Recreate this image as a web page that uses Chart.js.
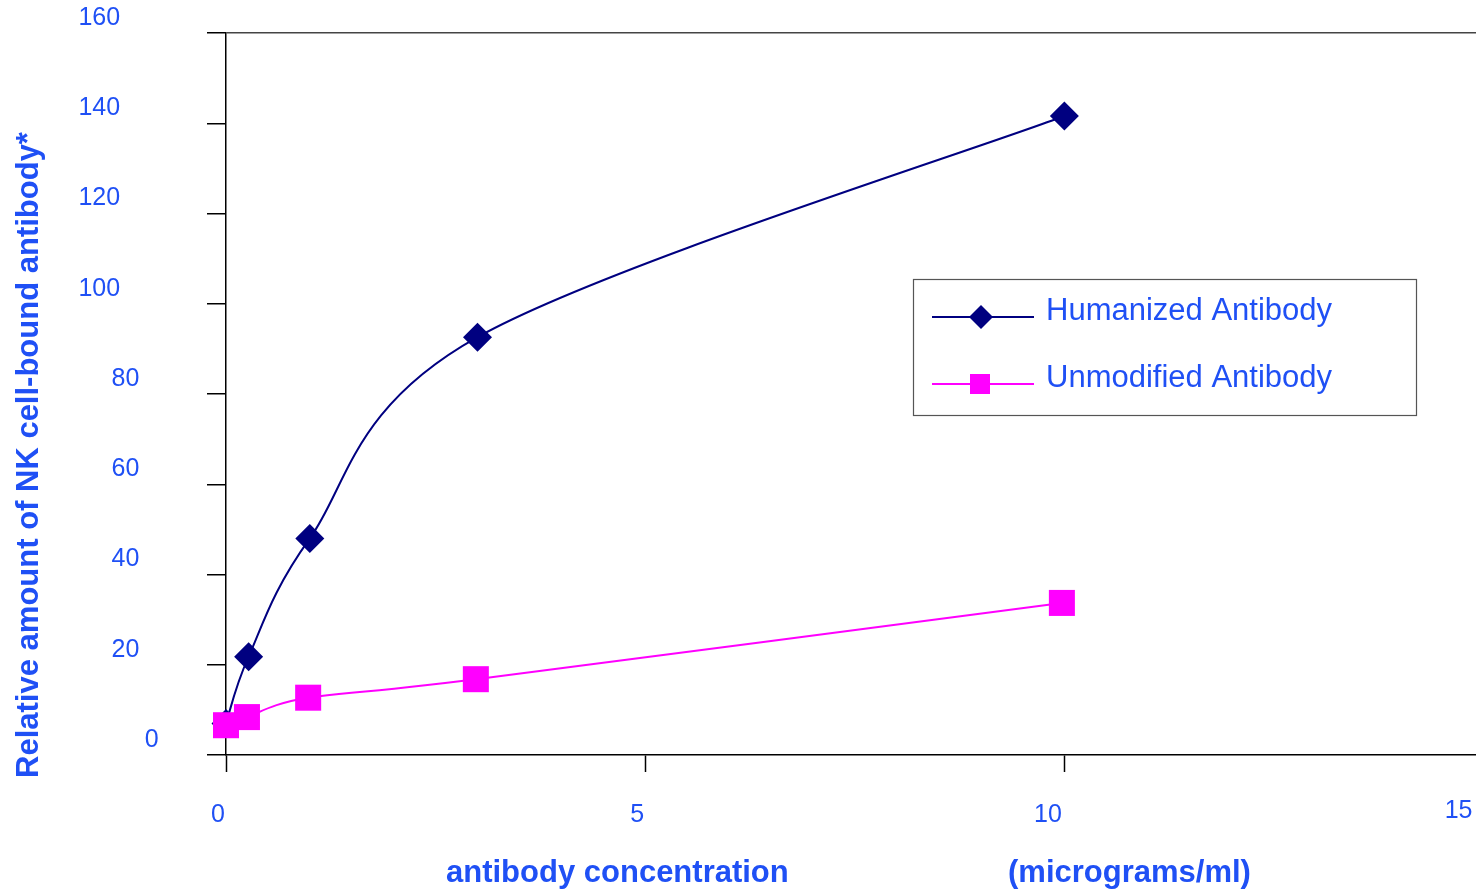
<!DOCTYPE html>
<html>
<head>
<meta charset="utf-8">
<script src="https://cdn.jsdelivr.net/npm/chart.js@4"></script>
<style>
  html,body{margin:0;padding:0;background:#fff;overflow:hidden;}
  #wrap{width:1476px;height:890px;position:relative;overflow:hidden;}
  #c{position:absolute;left:0;top:0;}
</style>
</head>
<body>
<div id="wrap"><canvas id="c" width="1502" height="890"></canvas></div>
<script>
// ---- data ----
const humanizedConc = [0, 0.27, 1, 3, 10];
const humanizedValues = [7, 21.8, 48, 92.6, 141.6];
const unmodifiedConc = [0, 0.25, 0.98, 2.98, 9.97];
const unmodifiedValues = [6.6, 8.4, 12.7, 16.8, 33.7];
const xTicks = [0, 5, 10, 15];
const yTicks = [0, 20, 40, 60, 80, 100, 120, 140, 160];
const seriesNames = ['Humanized Antibody', 'Unmodified Antibody'];
const yTitle = 'Relative amount of NK cell-bound antibody*';
const xTitleLeft = 'antibody concentration';
const xTitleRight = '(micrograms/ml)';

const BLUE = '#1f50f5';
const NAVY = '#000080';
const MAGENTA = '#ff00ff';
const FONT = '"Liberation Sans", Arial, sans-serif';

const toPts = (xs, ys) => xs.map((x, i) => ({x: x, y: ys[i]}));

// Spreadsheet-style smoothing: bezier handles = (next - prev) / 6,
// applied to the line element's own points after the library lays them out.
const smoothPlugin = {
  id: 'sheetSmooth',
  beforeDatasetDraw(chart, args) {
    const line = args.meta.dataset;
    if (!line) return;
    line.updateControlPoints(chart.chartArea, 'x');
    const pts = line.points;
    const n = pts.length;
    for (let i = 0; i < n; i++) {
      const prev = pts[Math.max(i - 1, 0)];
      const next = pts[Math.min(i + 1, n - 1)];
      const dx = (next.x - prev.x) / 6;
      const dy = (next.y - prev.y) / 6;
      pts[i].cp1x = pts[i].x - dx;
      pts[i].cp1y = pts[i].y - dy;
      pts[i].cp2x = pts[i].x + dx;
      pts[i].cp2y = pts[i].y + dy;
    }
    line._path = undefined;
  }
};

const textPlugin = {
  id: 'texts',
  afterDraw(chart) {
    const ctx = chart.ctx;
    const xs = chart.scales.x, ys = chart.scales.y;
    ctx.save();
    ctx.fillStyle = BLUE;
    // y tick labels
    ctx.font = '25px ' + FONT;
    ctx.textAlign = 'right';
    ctx.textBaseline = 'middle';
    yTicks.forEach(v => {
      const s = String(v);
      const py = ys.getPixelForValue(v) - 15;
      ctx.fillText(s, 178 - 19.3 * s.length, py);
    });
    // x tick labels
    ctx.textAlign = 'center';
    xTicks.forEach(v => {
      const px = xs.getPixelForValue(v) - 8 - Math.max(0, v - 5) * 1.7;
      ctx.fillText(String(v), px, 815 - (v === 15 ? 4 : 0));
    });
    // axis titles
    ctx.font = 'bold 31px ' + FONT;
    ctx.textAlign = 'left';
    ctx.fillText(xTitleLeft, 446, 873);
    ctx.fillText(xTitleRight, 1008, 873);
    ctx.save();
    ctx.translate(29, 455);
    ctx.rotate(-Math.PI / 2);
    ctx.textAlign = 'center';
    ctx.fillText(yTitle, 0, 0);
    ctx.restore();

    // legend
    ctx.strokeStyle = '#555';
    ctx.lineWidth = 1.2;
    ctx.strokeRect(913.5, 279.5, 503, 136);
    const rows = [
      {name: seriesNames[0], color: NAVY, y: 317, style: 'diamond'},
      {name: seriesNames[1], color: MAGENTA, y: 384, style: 'square'}
    ];
    rows.forEach(r => {
      ctx.strokeStyle = r.color;
      ctx.lineWidth = 2;
      ctx.beginPath();
      ctx.moveTo(932, r.y);
      ctx.lineTo(1034, r.y);
      ctx.stroke();
      ctx.fillStyle = r.color;
      ctx.beginPath();
      if (r.style === 'diamond') {
        const cx = 981, h = 12;
        ctx.moveTo(cx - h, r.y); ctx.lineTo(cx, r.y - h);
        ctx.lineTo(cx + h, r.y); ctx.lineTo(cx, r.y + h);
        ctx.closePath();
      } else {
        ctx.rect(970, r.y - 10, 20, 20);
      }
      ctx.fill();
      ctx.fillStyle = BLUE;
      ctx.font = '31px ' + FONT;
      ctx.textAlign = 'left';
      ctx.textBaseline = 'middle';
      ctx.fillText(r.name, 1046, r.y - 6);
    });
    ctx.restore();
  }
};

new Chart(document.getElementById('c'), {
  type: 'line',
  data: {
    datasets: [
      {
        label: seriesNames[0],
        data: toPts(humanizedConc, humanizedValues),
        borderColor: NAVY,
        backgroundColor: NAVY,
        borderWidth: 2,
        pointStyle: 'rectRot',
        pointRadius: 14.5,
        pointBorderWidth: 0,
        pointBackgroundColor: NAVY,
        tension: 0.4,
        fill: false,
        clip: false,
        order: 1
      },
      {
        label: seriesNames[1],
        data: toPts(unmodifiedConc, unmodifiedValues),
        borderColor: MAGENTA,
        backgroundColor: MAGENTA,
        borderWidth: 2,
        pointStyle: 'rect',
        pointRadius: 18.4,
        pointBorderWidth: 0,
        pointBackgroundColor: MAGENTA,
        tension: 0.4,
        fill: false,
        clip: false,
        order: 0
      }
    ]
  },
  options: {
    responsive: false,
    animation: false,
    events: [],
    layout: {padding: {left: 226, top: 33, right: 0, bottom: 135}},
    plugins: {legend: {display: false}, tooltip: {enabled: false}, title: {display: false}},
    scales: {
      x: {
        type: 'linear',
        min: 0, max: 15,
        afterFit(s) { s.height = 0; },
        afterBuildTicks(s) { s.ticks = xTicks.map(v => ({value: v})); },
        ticks: {display: false},
        grid: {drawOnChartArea: false, drawTicks: true, tickLength: 17, tickColor: '#000', tickWidth: 1.5, color: '#000'},
        border: {display: true, color: '#000', width: 1.5}
      },
      y: {
        type: 'linear',
        min: 0, max: 160,
        afterFit(s) { s.width = 0; },
        afterBuildTicks(s) { s.ticks = yTicks.map(v => ({value: v})); },
        ticks: {display: false},
        grid: {
          drawOnChartArea: true,
          drawTicks: true,
          tickLength: 19,
          tickColor: '#000',
          tickWidth: 1.5,
          lineWidth: 1.5,
          color: c => (c.tick && c.tick.value === 160) ? '#444' : 'rgba(0,0,0,0)'
        },
        border: {display: true, color: '#000', width: 1.5}
      }
    }
  },
  plugins: [smoothPlugin, textPlugin]
});
</script>
</body>
</html>
